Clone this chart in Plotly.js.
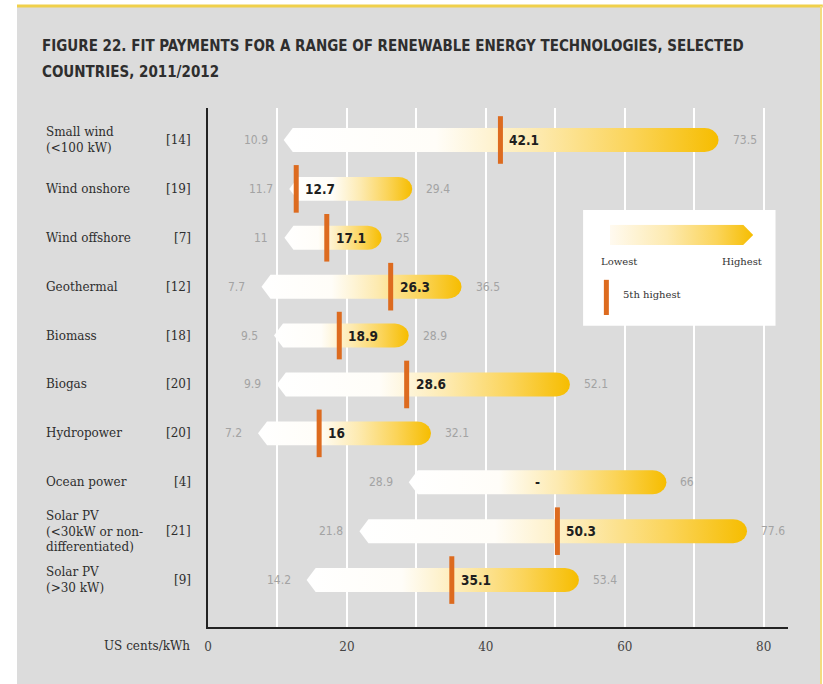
<!DOCTYPE html>
<html><head><meta charset="utf-8">
<script src="https://cdn.plot.ly/plotly-3.0.1.min.js"></script>
<style>html,body{margin:0;padding:0;background:#fff}#chart{width:823px;height:684px}</style>
</head><body><div id="chart"></div>
<script>
const categories = ['Small wind<br>(&lt;100 kW)','Wind onshore','Wind offshore','Geothermal','Biomass','Biogas','Hydropower','Ocean power','Solar PV<br>(&lt;30kW or non-<br>differentiated)','Solar PV<br>(&gt;30 kW)'];
const countryCounts = ['[14]','[19]','[7]','[12]','[18]','[20]','[20]','[4]','[21]','[9]'];
const lowest = [10.9, 11.7, 11, 7.7, 9.5, 9.9, 7.2, 28.9, 21.8, 14.2];
const highest = [73.5, 29.4, 25, 36.5, 28.9, 52.1, 32.1, 66, 77.6, 53.4];
const fifthHighest = [42.1, 12.7, 17.1, 26.3, 18.9, 28.6, 16, null, 50.3, 35.1];
const xTickVals = [0, 10, 20, 30, 40, 50, 60, 70, 80];
const xTickText = ['0', '', '20', '', '40', '', '60', '', '80'];
const titleLines = ['FIGURE 22. FIT PAYMENTS FOR A RANGE OF RENEWABLE ENERGY TECHNOLOGIES, SELECTED', 'COUNTRIES, 2011/2012'];
const axisLabel = 'US cents/kWh';
const legendLabels = ['Lowest', 'Highest', '5th highest'];

const NARROW = 'DejaVu Sans Condensed, Liberation Sans Narrow, Arial Narrow, sans-serif';
const SERIF = 'DejaVu Serif, Liberation Serif, serif';
const grad = [[0,'#ffffff'],[0.35,'#fffdf8'],[0.58,'#fdeab0'],[0.8,'#fbd459'],[1,'#f6bd00']];

function barPath(lo, hi, yc, h, tipL, tipR) {
  const xs = [lo, lo + tipL, hi - tipR], ys = [yc, yc - h, yc - h];
  for (let k = 1; k < 10; k++) {
    const t = -Math.PI / 2 + k * Math.PI / 10;
    xs.push(hi - tipR + tipR * Math.cos(t));
    ys.push(yc + h * Math.sin(t));
  }
  xs.push(hi - tipR, lo + tipL, lo);
  ys.push(yc + h, yc + h, yc);
  return {xs, ys};
}

const traces = [];
categories.forEach((c, i) => {
  const p = barPath(lowest[i], highest[i], i, 0.245, 1.3, 2.0);
  traces.push({
    type: 'scatter', mode: 'lines', x: p.xs, y: p.ys, fill: 'toself',
    line: {width: 0, color: 'rgba(0,0,0,0)'},
    fillgradient: {type: 'horizontal', colorscale: grad},
    hoverinfo: 'skip'
  });
});
traces.push({
  type: 'scatter', mode: 'markers',
  x: fifthHighest, y: categories.map((c, i) => i),
  marker: {symbol: 'line-ns', size: 34, color: '#dd6b1f', line: {width: 5, color: '#dd6b1f'}},
  hoverinfo: 'x'
});
traces.push({
  type: 'scatter', mode: 'lines', xaxis: 'x2', yaxis: 'y2',
  x: [0, 0.93, 1, 0.93, 0, 0], y: [-1, -1, 0, 1, 1, -1], fill: 'toself',
  line: {width: 0, color: 'rgba(0,0,0,0)'},
  fillgradient: {type: 'horizontal', colorscale: [[0,'#fffaf0'],[0.4,'#fdeab0'],[0.75,'#fbd459'],[1,'#f6bd00']]},
  hoverinfo: 'skip'
});

const ann = [];
titleLines.forEach((t, k) => ann.push({
  xref: 'paper', yref: 'paper', x: -0.2897, y: k === 0 ? 1.1195 : 1.0694,
  xanchor: 'left', yanchor: 'middle', showarrow: false, text: '<b>' + t + '</b>',
  font: {family: NARROW, size: 15, color: '#2e2e2e'}
}));
categories.forEach((c, i) => {
  ann.push({xref: 'paper', yref: 'y', x: -0.283, y: i, xanchor: 'left', yanchor: 'middle', align: 'left',
    showarrow: false, text: c, font: {family: SERIF, size: 12, color: '#2e2e2e'}});
  ann.push({xref: 'paper', yref: 'y', x: -0.026, y: i, xanchor: 'right', yanchor: 'middle',
    showarrow: false, text: countryCounts[i], font: {family: SERIF, size: 12, color: '#2e2e2e'}});
  ann.push({xref: 'x', yref: 'y', x: lowest[i], y: i, xanchor: 'right', xshift: -14, yanchor: 'middle',
    showarrow: false, text: String(lowest[i]), font: {family: NARROW, size: 12, color: '#a3a3a3'}});
  ann.push({xref: 'x', yref: 'y', x: highest[i], y: i, xanchor: 'left', xshift: 12, yanchor: 'middle',
    showarrow: false, text: String(highest[i]), font: {family: NARROW, size: 12, color: '#a3a3a3'}});
  if (fifthHighest[i] !== null) {
    ann.push({xref: 'x', yref: 'y', x: fifthHighest[i], y: i, xanchor: 'left', xshift: 7, yanchor: 'middle',
      showarrow: false, text: '<b>' + fifthHighest[i] + '</b>', font: {family: NARROW, size: 13.5, color: '#1e1e1e'}});
  } else {
    ann.push({xref: 'x', yref: 'y', x: (lowest[i] + highest[i]) / 2, y: i, xanchor: 'center', yanchor: 'middle',
      showarrow: false, text: '<b>-</b>', font: {family: NARROW, size: 13.5, color: '#1e1e1e'}});
  }
});
ann.push({xref: 'paper', yref: 'paper', x: -0.0276, y: -0.0366, xanchor: 'right', yanchor: 'middle',
  showarrow: false, text: axisLabel, font: {family: SERIF, size: 12, color: '#2e2e2e'}});
ann.push({xref: 'x', yref: 'y', x: 56.3, y: 2.49, xanchor: 'left', yanchor: 'middle', showarrow: false,
  text: legendLabels[0], font: {family: SERIF, size: 10, color: '#333'}});
ann.push({xref: 'x', yref: 'y', x: 80.0, y: 2.49, xanchor: 'right', yanchor: 'middle', showarrow: false,
  text: legendLabels[1], font: {family: SERIF, size: 10, color: '#333'}});
ann.push({xref: 'x', yref: 'y', x: 59.5, y: 3.15, xanchor: 'left', yanchor: 'middle', showarrow: false,
  text: legendLabels[2], font: {family: SERIF, size: 10, color: '#333'}});

const shapes = [
  {type: 'rect', xref: 'paper', yref: 'paper', x0: -0.3293, x1: 1.0552, y0: -0.12, y1: 1.1946,
    fillcolor: '#dcdcdc', line: {width: 0}, layer: 'below'},
  {type: 'line', xref: 'paper', yref: 'paper', x0: -0.3293, x1: 1.06, y0: 1.1965, y1: 1.1965,
    line: {width: 3, color: '#f0d04a'}, layer: 'below'},
  {type: 'line', xref: 'paper', yref: 'paper', x0: 1.0569, x1: 1.0569, y0: -0.12, y1: 1.1965,
    line: {width: 2, color: '#f3dc80'}, layer: 'below'},
  {type: 'rect', xref: 'x', yref: 'y', x0: 54.0, x1: 81.7, y0: 1.43, y1: 3.80,
    fillcolor: '#ffffff', line: {width: 0}, layer: 'between'},
  {type: 'line', xref: 'x', yref: 'y', x0: 57.35, x1: 57.35, y0: 2.86, y1: 3.58,
    line: {width: 5, color: '#dd6b1f'}, layer: 'above'}
];

const layout = {
  width: 823, height: 684,
  paper_bgcolor: '#ffffff', plot_bgcolor: 'rgba(0,0,0,0)',
  margin: {l: 208, r: 35, t: 108, b: 57},
  showlegend: false,
  xaxis: {range: [0, 83.5], tickvals: xTickVals, ticktext: xTickText, showgrid: true, gridcolor: '#ffffff',
    gridwidth: 2, zeroline: false, showline: true, linecolor: '#222', linewidth: 2, ticks: '',
    ticklabelstandoff: 8, tickfont: {family: SERIF, size: 12, color: '#444'}, fixedrange: true},
  yaxis: {range: [9.96, -0.654], showticklabels: false, showgrid: false, zeroline: false, showline: true,
    linecolor: '#222', linewidth: 2, ticks: '', fixedrange: true},
  xaxis2: {domain: [0.693, 0.940], range: [0, 1], visible: false, anchor: 'y2', fixedrange: true},
  yaxis2: {domain: [0.736, 0.775], range: [-1, 1], visible: false, anchor: 'x2', fixedrange: true},
  shapes: shapes, annotations: ann
};
Plotly.newPlot('chart', traces, layout, {displayModeBar: false, staticPlot: true});
</script></body></html>
